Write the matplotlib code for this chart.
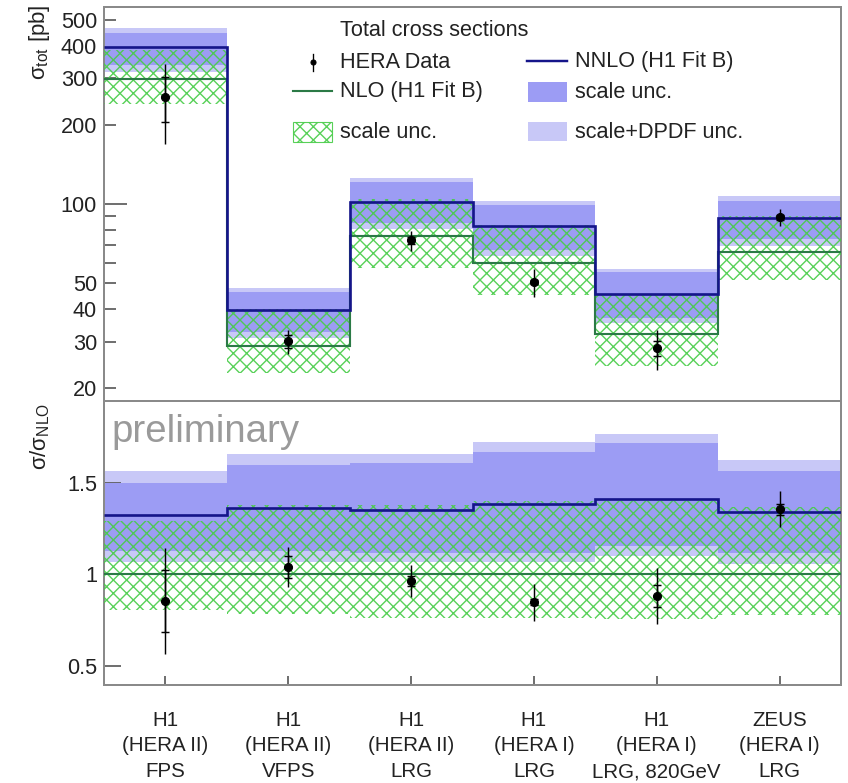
import numpy as np
import matplotlib
matplotlib.use('Agg')
import matplotlib.pyplot as plt
from matplotlib import font_manager
from matplotlib.patches import Rectangle
from matplotlib.lines import Line2D
from matplotlib.ticker import FixedLocator, FuncFormatter
import matplotlib.transforms as mtransforms

# ---------------- data ----------------
exp_labels = ['H1', 'H1', 'H1', 'H1', 'H1', 'ZEUS']
period_labels = ['(HERA II)', '(HERA II)', '(HERA II)', '(HERA I)', '(HERA I)', '(HERA I)']
method_labels = ['FPS', 'VFPS', 'LRG', 'LRG', 'LRG, 820GeV', 'LRG']

nlo = np.array([298.0, 29.0, 75.5, 59.7, 32.2, 65.8])
nnlo = np.array([395.0, 39.5, 101.9, 82.8, 45.4, 88.4])

# NLO scale uncertainty (ratio to NLO)
nlo_scale_lo = np.array([0.805, 0.785, 0.76, 0.76, 0.757, 0.78])
nlo_scale_hi = np.array([1.29, 1.38, 1.38, 1.40, 1.40, 1.37])
# NNLO scale uncertainty (ratio to NLO)
nnlo_scale_lo = np.array([1.13, 1.13, 1.12, 1.12, 1.153, 1.12])
nnlo_scale_hi = np.array([1.50, 1.60, 1.607, 1.668, 1.717, 1.568])
# NNLO scale + DPDF uncertainty (ratio to NLO)
nnlo_tot_lo = np.array([1.066, 1.066, 1.066, 1.066, 1.10, 1.055])
nnlo_tot_hi = np.array([1.568, 1.66, 1.66, 1.723, 1.768, 1.627])

# HERA data
data = np.array([255.0, 30.2, 72.8, 50.6, 28.4, 89.3])
data_tot_err = np.array([86.0, 3.2, 6.5, 6.0, 5.0, 6.4])
data_stat_err = np.array([50.0, 1.8, 2.0, 1.0, 1.9, 2.0])

top_ticks_labeled = [20, 30, 40, 50, 100, 200, 300, 400, 500]
top_minor_ticks = [20, 30, 40, 50, 60, 70, 80, 90, 200, 300, 400, 500]
ratio_ticks = [0.5, 1.0, 1.5]
ratio_tick_labels = ['0.5', '1', '1.5']

# ---------------- style ----------------
avail = {f.name for f in font_manager.fontManager.ttflist}
main_font = 'Liberation Sans' if 'Liberation Sans' in avail else 'DejaVu Sans'
narrow_font = 'Liberation Sans Narrow' if 'Liberation Sans Narrow' in avail else main_font

plt.rcParams['font.family'] = [main_font, 'DejaVu Sans']
plt.rcParams['mathtext.fontset'] = 'custom'
plt.rcParams['mathtext.rm'] = main_font
plt.rcParams['mathtext.it'] = main_font
plt.rcParams['mathtext.default'] = 'regular'
plt.rcParams['hatch.linewidth'] = 1.25

W, H, DPI = 848, 783, 80
PX = 72.0 / DPI  # points per pixel

c_light = '#c8c8f7'
c_dark = '#9c9cf4'
c_nnlo = '#15158a'
c_nlo = '#2b7a46'
c_hatch = (0.28, 0.80, 0.28, 0.9)
c_frame = '#8a8a8a'
c_tick = '#555555'
c_text = '#222222'

fig = plt.figure(figsize=(W / DPI, H / DPI), dpi=DPI)
fig.patch.set_facecolor('white')


def P(x, y):
    return (x / W, 1 - y / H)


L, R, T1, B1, B2 = 104, 841, 7, 401, 685
ax1 = fig.add_axes([L / W, 1 - B1 / H, (R - L) / W, (B1 - T1) / H])
ax2 = fig.add_axes([L / W, 1 - B2 / H, (R - L) / W, (B2 - B1) / H])

edges = np.arange(7)
centers = edges[:-1] + 0.5


def draw_panel(ax, scale):
    ax.stairs(nnlo_tot_hi * scale, edges, baseline=nnlo_tot_lo * scale, fill=True,
              color=c_light, linewidth=0, zorder=1)
    ax.stairs(nnlo_scale_hi * scale, edges, baseline=nnlo_scale_lo * scale, fill=True,
              color=c_dark, linewidth=0, zorder=2)
    ax.stairs(nlo_scale_hi * scale, edges, baseline=nlo_scale_lo * scale, fill=True,
              facecolor='none', edgecolor=c_hatch, hatch='xx', linewidth=0, zorder=3)
    ax.stairs(nlo / nlo * scale, edges, baseline=None, color=c_nlo, linewidth=1.9, zorder=4)
    ax.stairs(nnlo / nlo * scale, edges, baseline=None, color=c_nnlo, linewidth=2.4, zorder=5)
    d = data / nlo * scale
    et = data_tot_err / nlo * scale
    es = data_stat_err / nlo * scale
    ax.errorbar(centers, d, yerr=et, fmt='o', color='black', ms=7.2,
                elinewidth=1.3, capsize=0, zorder=10)
    ax.errorbar(centers, d, yerr=es, fmt='none', ecolor='black',
                elinewidth=1.3, capsize=3.6, capthick=1.3, zorder=10)


draw_panel(ax1, nlo)
draw_panel(ax2, np.ones(6))

for ax in (ax1, ax2):
    ax.set_xlim(0, 6)
    for sp in ax.spines.values():
        sp.set_color(c_frame)
        sp.set_linewidth(1.8)

# top panel axes
ax1.set_yscale('log')
ax1.set_ylim(17.9, 560)
ax1.yaxis.set_major_locator(FixedLocator([100]))
ax1.yaxis.set_minor_locator(FixedLocator(top_minor_ticks))
ax1.yaxis.set_major_formatter(FuncFormatter(lambda v, p: '%d' % v))
ax1.yaxis.set_minor_formatter(FuncFormatter(
    lambda v, p: ('%d' % round(v)) if round(v) in top_ticks_labeled else ''))
ax1.tick_params(axis='y', which='major', direction='in', length=23 * PX, width=1.5,
                color=c_tick, labelsize=19.5, labelcolor=c_text, pad=7 * PX)
ax1.tick_params(axis='y', which='minor', direction='in', length=12 * PX, width=1.5,
                color=c_tick, labelsize=19.5, labelcolor=c_text, pad=7 * PX)
ax1.tick_params(axis='x', which='both', bottom=False, labelbottom=False, top=False)

# ratio panel axes
ax2.set_ylim(0.396, 1.948)
ax2.set_yticks(ratio_ticks)
ax2.set_yticklabels(ratio_tick_labels)
ax2.tick_params(axis='y', direction='in', length=17 * PX, width=1.5, color=c_tick,
                labelsize=19.5, labelcolor=c_text, pad=7 * PX)
ax2.set_xticks(centers)
ax2.set_xticklabels([])
ax2.tick_params(axis='x', direction='in', length=9 * PX, width=1.5, color=c_tick)

# x category labels
tr = mtransforms.blended_transform_factory(ax2.transData, fig.transFigure)
for i in range(6):
    for lab, yb in zip((exp_labels[i], period_labels[i], method_labels[i]), (726, 751, 777)):
        ax2.text(centers[i], 1 - yb / H, lab, transform=tr, ha='center', va='baseline',
                 fontsize=18.5, family=[narrow_font, main_font], color=c_text)

# axis titles
fig.text(*P(39, 4), r'$\sigma_{tot}$ [pb]', rotation=90, ha='center', va='top',
         fontsize=20, color=c_text)
fig.text(*P(40, 403), r'$\sigma/\sigma_{NLO}$', rotation=90, ha='center', va='top',
         fontsize=20, color=c_text)

# preliminary
fig.text(*P(111, 442), 'preliminary', ha='left', va='baseline', fontsize=34.5,
         color='#9a9a9a')

# ---------------- legend (manual) ----------------
lf = 19.5
fig.text(*P(340, 31), 'Total cross sections', ha='left', va='center', fontsize=lf, color=c_text)
# HERA Data
fig.add_artist(Line2D([P(313, 0)[0]] * 2, [P(0, 54)[1], P(0, 71)[1]], color='black', lw=1.2))
fig.add_artist(Line2D([P(313, 0)[0]], [P(0, 62)[1]], marker='o', ms=4.5, color='black'))
fig.text(*P(340, 62), 'HERA Data', ha='left', va='center', fontsize=lf, color=c_text)
# NNLO
fig.add_artist(Line2D([P(527, 0)[0], P(567, 0)[0]], [P(0, 61)[1]] * 2, color=c_nnlo, lw=2.2))
fig.text(*P(575, 62), 'NNLO (H1 Fit B)', ha='left', va='center', fontsize=lf, color=c_text)
# NLO
fig.add_artist(Line2D([P(293, 0)[0], P(332, 0)[0]], [P(0, 91)[1]] * 2, color=c_nlo, lw=1.9))
fig.text(*P(340, 92), 'NLO (H1 Fit B)', ha='left', va='center', fontsize=lf, color=c_text)
# NNLO scale unc.
fig.add_artist(Rectangle(P(528, 102), 39 / W, 20 / H, transform=fig.transFigure,
                         facecolor=c_dark, edgecolor='none'))
fig.text(*P(575, 92), 'scale unc.', ha='left', va='center', fontsize=lf, color=c_text)
# NLO scale unc. (hatched)
fig.add_artist(Rectangle(P(293, 142), 39 / W, 20 / H, transform=fig.transFigure,
                         facecolor='none', edgecolor=c_hatch, hatch='xx', linewidth=1.0))
fig.text(*P(340, 132), 'scale unc.', ha='left', va='center', fontsize=lf, color=c_text)
# scale + DPDF
fig.add_artist(Rectangle(P(528, 141), 39 / W, 19 / H, transform=fig.transFigure,
                         facecolor=c_light, edgecolor='none'))
fig.text(*P(575, 132), 'scale+DPDF unc.', ha='left', va='center', fontsize=lf, color=c_text)

fig.savefig('out.png', dpi=DPI, facecolor='white')
